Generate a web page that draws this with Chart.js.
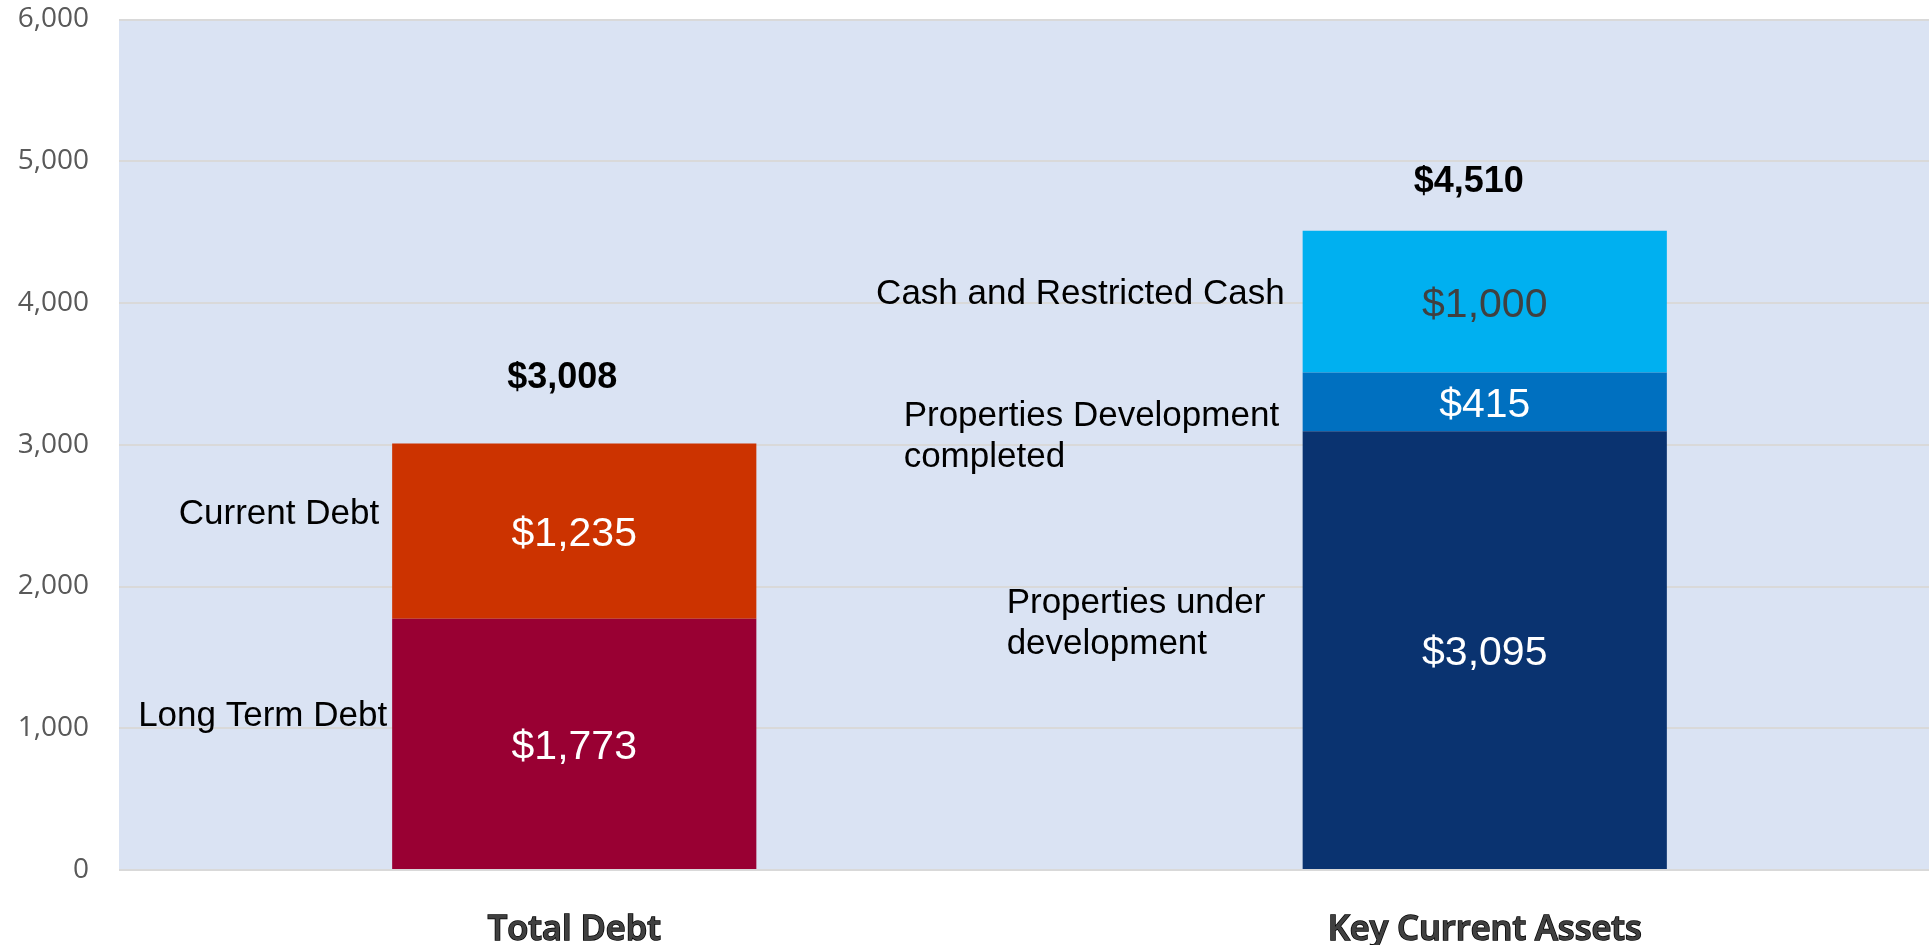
<!DOCTYPE html>
<html>
<head>
<meta charset="utf-8">
<script src="https://cdn.jsdelivr.net/npm/chart.js@4/dist/chart.umd.min.js"></script>
<style>
  html, body { margin: 0; padding: 0; background: #ffffff; overflow: hidden; }
  #wrap { position: relative; width: 1940px; height: 945px; }
</style>
</head>
<body>
<div id="wrap"><canvas id="debtChart"></canvas></div>
<script>
// Chart data
const categories = ['Total Debt', 'Key Current Assets'];
const seriesNames = [
    'Long Term Debt',
    'Current Debt',
    'Properties under development',
    'Properties Development completed',
    'Cash and Restricted Cash'
];
const longTermDebt = [1773, null];
const currentDebt = [1235, null];
const propertiesUnderDev = [null, 3095];
const propertiesCompleted = [null, 415];
const cashRestricted = [null, 1000];
const yTicks = [0, 1000, 2000, 3000, 4000, 5000, 6000];

const seriesValues = [longTermDebt, currentDebt, propertiesUnderDev, propertiesCompleted, cashRestricted];
const seriesColors = ['#990033', '#CC3300', '#0A3370', '#0070C0', '#00B0F0'];
const valueColors = ['#FFFFFF', '#FFFFFF', '#FFFFFF', '#FFFFFF', '#404040'];

// Where the side captions sit, relative to their segment
const captionLayout = [
    { lines: ['Long Term Debt'], align: 'right', dx: -5, dy: -27 },
    { lines: ['Current Debt'], align: 'right', dx: -13, dy: -17 },
    { lines: ['Properties under', 'development'], align: 'left', dx: -296, dy: -26 },
    { lines: ['Properties Development', 'completed'], align: 'left', dx: -399, dy: 35 },
    { lines: ['Cash and Restricted Cash'], align: 'right', dx: -18, dy: -7 }
];
const valueShift = 4;
// Offsets for the totals above each stack
const totalOffsets = [{ dx: -12, dy: -66 }, { dx: -16, dy: -49 }];

function fmtMoney(v) {
    return '$' + v.toLocaleString('en-US');
}

// Plot area background
const plotBackground = {
    id: 'plotBackground',
    beforeDraw(chart) {
        const { ctx, chartArea } = chart;
        ctx.save();
        ctx.fillStyle = '#DAE3F3';
        ctx.fillRect(chartArea.left, chartArea.top, chartArea.right - chartArea.left, chartArea.bottom - chartArea.top);
        ctx.restore();
    }
};

// Value labels, side captions and totals
const barLabels = {
    id: 'barLabels',
    afterDatasetsDraw(chart) {
        const ctx = chart.ctx;
        const tops = [];
        ctx.save();
        chart.data.datasets.forEach((ds, i) => {
            const meta = chart.getDatasetMeta(i);
            meta.data.forEach((bar, j) => {
                const v = ds.data[j];
                if (v === null || v === undefined) return;
                const midY = (bar.y + bar.base) / 2;
                const left = bar.x - bar.width / 2;

                // value inside the segment
                ctx.font = '41px "Liberation Sans", Arial, sans-serif';
                ctx.fillStyle = valueColors[i];
                ctx.textAlign = 'center';
                ctx.textBaseline = 'middle';
                ctx.fillText(fmtMoney(v), bar.x, midY + valueShift);

                // caption to the left of the bar
                const cap = captionLayout[i];
                ctx.font = '35px "Liberation Sans", Arial, sans-serif';
                ctx.fillStyle = '#000000';
                ctx.textAlign = cap.align;
                const lh = 41;
                const y0 = midY + cap.dy - (cap.lines.length - 1) * lh / 2;
                cap.lines.forEach((line, k) => {
                    ctx.fillText(line, left + cap.dx, y0 + k * lh);
                });

                if (tops[j] === undefined || bar.y < tops[j].y) {
                    tops[j] = { x: bar.x, y: bar.y };
                }
            });
        });

        // totals
        ctx.font = 'bold 36px "Liberation Sans", Arial, sans-serif';
        ctx.fillStyle = '#000000';
        ctx.textAlign = 'center';
        ctx.textBaseline = 'middle';
        categories.forEach((c, j) => {
            const total = seriesValues.reduce((s, arr) => s + (arr[j] || 0), 0);
            const t = tops[j];
            ctx.fillText(fmtMoney(total), t.x + totalOffsets[j].dx, t.y + totalOffsets[j].dy);
        });
        ctx.restore();
    }
};

document.addEventListener('DOMContentLoaded', () => {
    const ctx = document.getElementById('debtChart').getContext('2d');

    const datasets = seriesNames.map((name, i) => ({
        label: name,
        data: seriesValues[i],
        backgroundColor: seriesColors[i],
        borderWidth: 0,
        categoryPercentage: 1,
        barPercentage: 0.4,
        stack: 'main'
    }));

    new Chart(ctx, {
        type: 'bar',
        data: { labels: categories, datasets: datasets },
        options: {
            responsive: true,
            maintainAspectRatio: false,
            animation: false,
            layout: { padding: { top: 0, right: 0, bottom: 0, left: 0 } },
            scales: {
                x: {
                    stacked: true,
                    grid: { display: false },
                    border: { display: false },
                    afterFit(scale) { scale.height = 75; },
                    ticks: {
                        padding: 31,
                        color: '#404040',
                        textStrokeColor: '#000000',
                        textStrokeWidth: 1.5,
                        font: { family: '"Open Sans", sans-serif', size: 34.5, weight: 600 }
                    }
                },
                y: {
                    stacked: true,
                    min: 0,
                    max: 6000,
                    afterBuildTicks(scale) {
                        scale.ticks = yTicks.map(v => ({ value: v }));
                    },
                    afterFit(scale) {
                        scale.width = 119;
                        scale.paddingTop = 19.5;
                        scale.paddingBottom = 0;
                    },
                    grid: { color: '#D9D9D9', lineWidth: 2, drawTicks: false },
                    border: { display: false },
                    ticks: {
                        padding: 30,
                        color: '#595959',
                        font: { family: '"Open Sans", sans-serif', size: 28 },
                        callback: v => v.toLocaleString('en-US')
                    }
                }
            },
            plugins: {
                legend: { display: false },
                tooltip: { enabled: false }
            }
        },
        plugins: [plotBackground, barLabels]
    });
});
</script>
</body>
</html>
